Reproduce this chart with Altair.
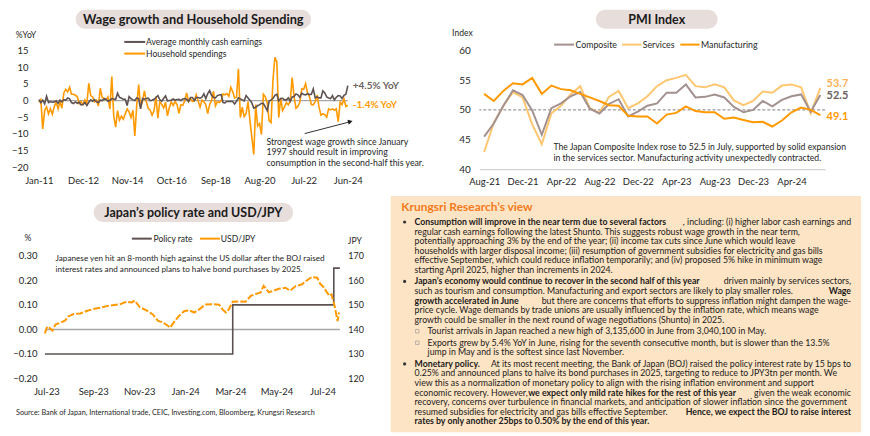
import altair as alt
import pandas as pd

FONT = "Lato"
TXT = "#262626"
DARK = "#5e5151"
ORANGE = "#ff9900"
LIGHT_OR = "#ffc670"
MAUVE = "#a39190"
ZERO_GREY = "#a6a6a6"
PILL = "#e7dddb"
PEACH = "#fde4c4"
TITLE_OR = "#f47b20"

# ---------------- Chart 1: wage growth and household spending (%YoY, monthly Jan-11 .. Jun-24)
wage_yoy = [
    0.3, -0.6, 0.1, -1.0, 1.3, -0.6, -0.3, -0.5, -0.4, -0.1, -0.8, 0.1,
    -0.4, 0.3, 0.1, 0.8, 0.5, -0.6, -0.9, -0.4, -0.8, -0.5, -1.3, -1.2,
    -0.6, -1.5, -0.5, 0.2, -0.2, 0.3, -0.4, -0.6, 0.1, 0.0, 0.5, 0.4,
    -0.2, 0.1, 0.6, 0.5, 0.3, 2.2, 1.0, 0.7, 0.4, 0.4, -1.5, 1.2,
    0.6, 0.2, 0.0, 0.8, 0.6, -2.5, 0.6, 0.4, 0.6, 0.7, 0.0, 0.1,
    0.4, 0.9, 1.5, 0.3, -0.2, 0.6, 1.4, -0.1, 0.0, 0.1, 0.5, 0.1,
    0.3, 0.4, 0.0, 0.5, 0.6, 0.4, -0.3, 0.9, 0.9, 0.0, 0.9, 0.9,
    0.7, 1.0, 2.0, 0.6, 2.1, 3.0, 1.6, 0.9, 0.8, 1.5, 1.7, 1.8,
    -0.6, -0.7, -0.2, -0.3, -0.2, -0.3, -1.0, -0.2, 0.8, 0.5, 0.2, -0.1,
    1.5, 0.8, 0.1, -0.7, -2.3, -2.0, -1.5, -1.3, -0.8, -0.9, -1.9, -3.0,
    -0.2, 0.2, 0.6, 1.6, 1.9, -0.1, 0.6, 0.7, 0.2, 0.2, 0.8, -0.2,
    1.1, 1.2, 2.0, 1.7, 1.0, 2.2, 1.8, 1.7, 2.1, 1.8, 1.9, 3.5,
    0.8, 1.1, 0.8, 0.8, 2.9, 2.3, 1.1, 0.8, 0.6, 1.5, 0.2, 1.0,
    1.5, 1.4, 0.6, 1.6, 1.9, 4.5,
]
household_yoy = [
    -0.5, 0.3, -8.5, -3.0, -1.9, -4.0, -2.4, -4.1, -1.9, -0.4, -2.5, -0.3,
    -2.3, 2.3, 3.4, 2.6, 4.0, 1.9, 1.9, 1.6, 1.2, -0.9, -0.3, -1.2,
    0.2, -0.9, 5.2, 1.5, 1.1, -0.4, 0.1, -1.6, 3.7, 0.9, 0.7, 0.2,
    1.1, -2.5, 7.2, -4.6, -8.0, -3.0, -5.9, -4.7, -5.6, -4.0, -2.5, -3.4,
    -5.1, -2.9, -10.6, -1.3, 4.8, -2.0, -0.2, 2.9, -0.4, -2.4, -2.9, -4.4,
    -3.1, 1.2, -5.3, -0.4, -1.1, -2.2, -0.5, -4.6, -2.1, -0.4, -1.5, -0.3,
    -1.2, -3.8, -1.3, -1.4, -0.1, 2.3, -0.2, 0.6, -0.3, 0.0, 1.7, -0.1,
    -2.0, 0.1, -0.4, -1.3, -3.9, -1.2, 0.1, 2.8, -1.6, -0.3, -0.6, -0.1,
    2.0, 1.7, 2.1, 1.3, 4.0, 2.7, 0.8, 1.0, 9.5, -5.1, -2.0, -4.8,
    -3.9, -0.3, -6.0, -11.1, -16.2, -1.2, -7.6, -6.9, -10.2, 1.9, 1.1, -0.6,
    -6.1, -6.6, 6.2, 13.0, 11.6, -5.1, 0.7, -3.0, -1.9, -0.6, -1.3, -0.2,
    6.9, 1.1, -2.3, -1.7, -0.5, 3.5, 3.4, 5.1, 2.3, 1.2, -1.2, -1.3,
    -0.3, 1.6, -1.9, -4.4, -4.0, -4.2, -5.0, -2.5, -2.8, -2.5, -2.9, -2.5,
    -6.3, -0.5, -1.2, 0.5, -1.8, -1.4,
]
months_wage = list(pd.date_range("2011-01-01", periods=len(wage_yoy), freq="MS").strftime("%b-%y"))
ticks_wage = ["Jan-11", "Dec-12", "Nov-14", "Oct-16", "Sep-18", "Aug-20", "Jul-22", "Jun-24"]
yticks_wage = [-20, -15, -10, -5, 0, 5, 10, 15]

# ---------------- Chart 2: PMI (monthly Aug-21 .. Jul-24)
pmi_composite = [45.5, 47.7, 50.7, 53.3, 52.5, 49.9, 45.8, 50.3, 51.1, 52.3, 53.0, 50.2,
                 49.4, 51.0, 51.8, 48.9, 49.7, 50.7, 51.1, 52.9, 52.9, 54.3, 52.1, 52.2,
                 52.6, 52.1, 50.5, 49.6, 50.0, 51.5, 50.6, 51.7, 52.3, 52.6, 49.7, 52.5]
pmi_services = [42.9, 47.8, 50.7, 53.0, 52.1, 47.6, 44.2, 49.4, 50.7, 52.6, 54.0, 50.3,
                49.5, 52.2, 53.2, 50.3, 51.1, 52.3, 54.0, 55.0, 55.4, 55.9, 54.0, 53.8,
                54.3, 53.8, 51.6, 50.8, 51.5, 53.1, 52.9, 54.1, 54.3, 53.8, 49.4, 53.7]
pmi_manufacturing = [52.7, 51.5, 53.2, 54.5, 54.3, 55.4, 52.7, 54.1, 53.5, 53.3, 52.7, 52.1,
                     51.5, 50.8, 50.7, 49.0, 48.9, 48.9, 47.7, 49.2, 49.5, 50.6, 49.8, 49.6,
                     49.6, 48.5, 48.7, 48.3, 47.9, 48.0, 47.2, 48.2, 49.6, 50.4, 50.0, 49.1]
months_pmi = list(pd.date_range("2021-08-01", periods=len(pmi_composite), freq="MS").strftime("%b-%y"))
ticks_pmi = ["Aug-21", "Dec-21", "Apr-22", "Aug-22", "Dec-22", "Apr-23", "Aug-23", "Dec-23", "Apr-24"]

# ---------------- Chart 3: policy rate (%) and USD/JPY
usdjpy_dates = ["2023-07-14", "2023-07-17", "2023-07-20", "2023-07-24", "2023-07-28", "2023-08-03",
                "2023-08-10", "2023-08-14", "2023-08-21", "2023-08-30", "2023-09-07", "2023-09-16",
                "2023-09-25", "2023-10-04", "2023-10-12", "2023-10-21", "2023-10-30", "2023-11-06",
                "2023-11-10", "2023-11-17", "2023-11-25", "2023-12-04", "2023-12-11", "2023-12-17",
                "2023-12-24", "2023-12-27", "2024-01-02", "2024-01-08", "2024-01-15", "2024-01-21",
                "2024-01-28", "2024-02-04", "2024-02-12", "2024-02-21", "2024-03-01", "2024-03-06",
                "2024-03-10", "2024-03-14", "2024-03-19", "2024-03-27", "2024-04-05", "2024-04-12",
                "2024-04-18", "2024-04-25", "2024-04-29", "2024-05-06", "2024-05-13", "2024-05-19",
                "2024-05-28", "2024-06-03", "2024-06-10", "2024-06-19", "2024-06-23", "2024-07-02",
                "2024-07-09", "2024-07-13", "2024-07-18", "2024-07-22", "2024-07-25", "2024-07-28",
                "2024-07-31", "2024-08-01", "2024-08-05", "2024-08-07"]
usdjpy = [138.4, 141.2, 140.7, 139.5, 142.0, 142.7,
          143.7, 145.3, 146.3, 146.5, 147.5, 148.3,
          148.8, 149.5, 149.9, 150.2, 151.3, 151.0,
          151.8, 149.0, 147.9, 146.1, 143.5, 142.9,
          141.5, 140.7, 143.4, 145.6, 147.5, 147.8,
          146.9, 148.3, 150.2, 150.3, 150.1, 148.0,
          146.9, 148.3, 151.3, 151.4, 151.3, 153.7,
          154.4, 155.1, 157.8, 155.1, 155.9, 156.6,
          157.0, 155.8, 157.6, 158.4, 159.5, 161.4,
          161.1, 158.6, 157.1, 155.1, 153.7, 154.3,
          150.7, 149.7, 143.4, 146.9]
policy_dates = ["2023-07-14", "2024-03-19", "2024-07-31", "2024-08-08"]
policy_rate = [-0.10, 0.10, 0.25, 0.25]
zero_dates = ["2023-07-14", "2024-08-08"]
zero_values = [0.0, 0.0]
rate_ticks = [-0.2, -0.1, 0.0, 0.1, 0.2, 0.3]
jpy_ticks = [120, 130, 140, 150, 160, 170]

# ---------------- Krungsri Research's view (line, text, bold, anchor)
view_title = "Krungsri Research\u2019s view"
view_segments = [
    (0, "Consumption will improve in the near term due to several factors", True, "L"),
    (0, ", including: (i) higher labor cash earnings and", False, "R"),
    (1, "regular cash earnings following the latest Shunto. This suggests robust wage growth in the near term,", False, "L"),
    (2, "potentially approaching 3% by the end of the year; (ii) income tax cuts since June which would leave", False, "L"),
    (3, "households with larger disposal income; (iii) resumption of government subsidies for electricity and gas bills", False, "L"),
    (4, "effective September, which could reduce inflation temporarily; and (iv) proposed 5% hike in minimum wage", False, "L"),
    (5, "starting April 2025, higher than increments in 2024.", False, "L"),
    (6, "Japan\u2019s economy would continue to recover in the second half of this year", True, "L"),
    (6, "driven mainly by services sectors,", False, "R"),
    (7, "such as tourism and consumption. Manufacturing and export sectors are likely to play smaller roles.", False, "L"),
    (7, "Wage", True, "R"),
    (8, "growth accelerated in June", True, "L"),
    (8, "but there are concerns that efforts to suppress inflation might dampen the wage-", False, "R"),
    (9, "price cycle. Wage demands by trade unions are usually influenced by the inflation rate, which means wage", False, "L"),
    (10, "growth could be smaller in the next round of wage negotiations (Shunto) in 2025.", False, "L"),
    (11, "Tourist arrivals in Japan reached a new high of 3,135,600 in June from 3,040,100 in May.", False, "S"),
    (12, "Exports grew by 5.4% YoY in June, rising for the seventh consecutive month, but is slower than the 13.5%", False, "S"),
    (13, "jump in May and is the softest since last November.", False, "S"),
    (14, "Monetary policy.", True, "L"),
    (14, "At its most recent meeting, the Bank of Japan (BOJ) raised the policy interest rate by 15 bps to", False, "R"),
    (15, "0.25% and announced plans to halve its bond purchases in 2025, targeting to reduce to JPY3tn per month. We", False, "L"),
    (16, "view this as a normalization of monetary policy to align with the rising inflation environment and support", False, "L"),
    (17, "economic recovery. However,", False, "L"),
    (17, "we expect only mild rate hikes for the rest of this year", True, "M"),
    (17, "given the weak economic", False, "R"),
    (18, "recovery, concerns over turbulence in financial markets, and anticipation of slower inflation since the government", False, "L"),
    (19, "resumed subsidies for electricity and gas bills effective September.", False, "L"),
    (19, "Hence, we expect the BOJ to raise interest", True, "R"),
    (20, "rates by only another 25bps to 0.50% by the end of this year.", True, "L"),
]
view_bullet_lines = [0, 6, 14]
view_sub_bullet_lines = [11, 12]
source_text = "Source: Bank of Japan, International trade, CEIC, Investing.com, Bloomberg, Krungsri Research"

# ---------------- layout (pixels, relative to each panel's plot origin)
view_line_y = [-34, -24.4, -14.8, -5.2, 4.4, 14,
               25.6, 35.2, 44.8, 54.4, 64,
               75.6,
               87.2, 96.8,
               108.4, 118, 127.6, 137.2, 146.8, 156.4, 166]
VIEW_X = {"L": 24, "R": 462, "S": 37, "M": 138}
VIEW_FS = 8.8
AXFS = 9.5

DUMMY = pd.DataFrame({"k": [0]})


def frame(L, T, W, H, R, B):
    return alt.Chart(DUMMY).mark_rect(fill="#ffffff", opacity=0).encode(
        x=alt.value(-L), x2=alt.value(W + R), y=alt.value(-T), y2=alt.value(H + B))


def label(x, y, text, size=9.5, color=TXT, bold=False, align="left"):
    return alt.Chart(DUMMY).mark_text(
        font=FONT, fontSize=size, fontWeight="bold" if bold else "normal",
        color=color, align=align, baseline="middle").encode(
        x=alt.value(x), y=alt.value(y), text=alt.value(text))


def pill(x1, x2, y1, y2, title, size=12.5):
    r = alt.Chart(DUMMY).mark_rect(fill=PILL, cornerRadius=(y2 - y1) / 2).encode(
        x=alt.value(x1), x2=alt.value(x2), y=alt.value(y1), y2=alt.value(y2))
    t = label((x1 + x2) / 2, (y1 + y2) / 2 + 0.5, title, size=size, bold=True, align="center", color="#1a1a1a")
    return [r, t]


def legend_line(x1, x2, y, color, width=2.0):
    return alt.Chart(DUMMY).mark_rule(color=color, strokeWidth=width).encode(
        x=alt.value(x1), x2=alt.value(x2), y=alt.value(y))


def ax(**kw):
    base = dict(domain=False, ticks=False, grid=False, title=None, labelFont=FONT,
                labelFontSize=AXFS, labelColor=TXT)
    base.update(kw)
    return alt.Axis(**base)


# ======================= Panel A =======================
WA, HA = 310, 117
xA = alt.X("month:O", sort=months_wage, scale=alt.Scale(type="point", padding=0),
           axis=ax(values=ticks_wage, labelAngle=0, labelPadding=8))
axis_yA = ax(values=yticks_wage, labelPadding=11)
scale_yA = alt.Scale(domain=[-20, 15], nice=False, zero=False)
yA = alt.Y("v:Q", scale=scale_yA, axis=axis_yA)
df_wage = pd.DataFrame({"month": months_wage, "v": wage_yoy})
df_hh = pd.DataFrame({"month": months_wage, "v": household_yoy})

zeroA = alt.Chart(DUMMY).mark_rule(color=ZERO_GREY, strokeWidth=1.2).encode(
    y=alt.YDatum(0, scale=scale_yA, axis=axis_yA))
hh_line = alt.Chart(df_hh).mark_line(color=ORANGE, strokeWidth=1.6).encode(x=xA, y=yA)
wage_line = alt.Chart(df_wage).mark_line(color=DARK, strokeWidth=1.6).encode(x=xA, y=yA)

arrowA = alt.Chart(DUMMY).mark_rule(color="#1a1a1a", strokeWidth=0.9).encode(
    x=alt.value(266.7), y=alt.value(83.3), x2=alt.value(312), y2=alt.value(71.5))
arrow_headA = alt.Chart(DUMMY).mark_point(shape="triangle-right", filled=True, size=28,
                                         angle=345, color="#1a1a1a", opacity=1).encode(
    x=alt.value(312.5), y=alt.value(71.3))

panelA = alt.layer(
    frame(30, 41, WA, HA, 92, 26),
    *pill(37, 273, -41, -22, "Wage growth and Household Spending", size=12.8),
    label(-13, -16, "%YoY", size=8.6, align="center"),
    legend_line(85.7, 106.7, -8.7, DARK),
    label(107.5, -8.7, "Average monthly cash earnings", size=8.6),
    legend_line(85.7, 106.7, 3, ORANGE),
    label(107.5, 3, "Household spendings", size=8.6),
    zeroA, hh_line, wage_line,
    label(315, 35.7, "+4.5% YoY", size=10, bold=True, color="#6b5f5f"),
    label(315, 55, "-1.4% YoY", size=10, bold=True, color=ORANGE),
    label(228.3, 91.3, "Strongest wage growth since January", size=8.8),
    label(228.3, 102, "1997 should result in improving", size=8.8),
    label(228.3, 112.7, "consumption in the second-half this year.", size=8.8),
    arrowA, arrow_headA,
).properties(width=WA, height=HA)

# ======================= Panel B =======================
WB, HB = 347, 119
xB = alt.X("month:O", sort=months_pmi, scale=alt.Scale(type="point", padding=0.5),
           axis=ax(values=ticks_pmi, labelAngle=0, labelPadding=7, domain=True,
                   domainColor="#c8c8c8", domainWidth=1))
axis_yB = ax(values=[40, 45, 50, 55, 60], labelPadding=9, labelFontSize=10)
scale_yB = alt.Scale(domain=[40, 60], nice=False, zero=False)
yB = alt.Y("v:Q", scale=scale_yB, axis=axis_yB)
df_comp = pd.DataFrame({"month": months_pmi, "v": pmi_composite})
df_serv = pd.DataFrame({"month": months_pmi, "v": pmi_services})
df_manu = pd.DataFrame({"month": months_pmi, "v": pmi_manufacturing})

fiftyB = alt.Chart(DUMMY).mark_rule(color="#7f7f7f", strokeWidth=1, strokeDash=[3, 2]).encode(
    y=alt.YDatum(50, scale=scale_yB, axis=axis_yB))

panelB = alt.layer(
    frame(38, 41, WB, HB, 33, 24),
    *pill(117, 239, -41, -22, "PMI Index"),
    label(-17, -18, "Index", size=8.6, align="center"),
    legend_line(75, 95, -6, MAUVE),
    label(96.5, -6, "Composite", size=8.8),
    legend_line(143.3, 162.7, -6, LIGHT_OR),
    label(164, -6, "Services", size=8.8),
    legend_line(201.7, 221, -6, ORANGE),
    label(222.5, -6, "Manufacturing", size=8.8),
    fiftyB,
    alt.Chart(df_serv).mark_line(color=LIGHT_OR, strokeWidth=2).encode(x=xB, y=yB),
    alt.Chart(df_comp).mark_line(color=MAUVE, strokeWidth=2).encode(x=xB, y=yB),
    alt.Chart(df_manu).mark_line(color=ORANGE, strokeWidth=2).encode(x=xB, y=yB),
    label(348.5, 34, "53.7", size=11, bold=True, color="#f9b35a"),
    label(348.5, 45.7, "52.5", size=11, bold=True, color="#6b5f5f"),
    label(348.5, 66.7, "49.1", size=11, bold=True, color=ORANGE),
    label(74.3, 96.3, "The Japan Composite Index rose to 52.5 in July, supported by solid expansion", size=8.7),
    label(74.3, 107.3, "in the services sector. Manufacturing activity unexpectedly contracted.", size=8.7),
).properties(width=WB, height=HB)

# ======================= Panel C =======================
WC, HC = 302, 123
xC = alt.X("date:T", scale=alt.Scale(domain=[alt.DateTime(year=2023, month=7, date=6),
                                             alt.DateTime(year=2024, month=8, date=8)]),
           axis=ax(values=[alt.DateTime(year=2023, month=7, date=16), alt.DateTime(year=2023, month=9, date=16),
                           alt.DateTime(year=2023, month=11, date=16), alt.DateTime(year=2024, month=1, date=16),
                           alt.DateTime(year=2024, month=3, date=16), alt.DateTime(year=2024, month=5, date=16),
                           alt.DateTime(year=2024, month=7, date=16)],
                   format="%b-%y", labelPadding=8, labelAngle=0))
scale_rate = alt.Scale(domain=[-0.2, 0.3], nice=False, zero=False)
y_rate = alt.Y("v:Q", scale=scale_rate, axis=ax(values=rate_ticks, format=".2f", labelPadding=2))
y_jpy = alt.Y("v:Q", scale=alt.Scale(domain=[120, 170], nice=False, zero=False),
              axis=ax(values=jpy_ticks, format="d", orient="right", labelPadding=8, labelFontSize=9))

df_zero = pd.DataFrame({"date": zero_dates, "v": zero_values})
df_policy = pd.DataFrame({"date": policy_dates, "v": policy_rate})
df_usd = pd.DataFrame({"date": usdjpy_dates, "v": usdjpy})

rate_layer = alt.layer(
    alt.Chart(df_zero).mark_line(color=ZERO_GREY, strokeWidth=1.5).encode(x=xC, y=y_rate),
    alt.Chart(df_policy).mark_line(color=DARK, strokeWidth=1.6, interpolate="step-after").encode(x=xC, y=y_rate),
)
usd_layer = alt.Chart(df_usd).mark_line(color=ORANGE, strokeWidth=2, strokeDash=[7, 2]).encode(x=xC, y=y_jpy)

panelC = alt.layer(
    frame(30, 61, WC, HC, 49, 54),
    *pill(55, 255, -53, -34, "Japan\u2019s policy rate and USD/JPY"),
    label(-11, -18, "%", size=8.6, align="center"),
    label(310, -15, "JPY", size=8.6),
    legend_line(93.3, 113.3, -17.3, DARK),
    label(115, -17.3, "Policy rate", size=8.6),
    legend_line(161.7, 181.7, -17.3, ORANGE),
    label(182.5, -17.3, "USD/JPY", size=8.6),
    label(16.7, 3.3, "Japanese yen hit an 8-month high against the US dollar after the BOJ raised", size=8.2),
    label(16.7, 14, "interest rates and announced plans to halve bond purchases by 2025.", size=8.2),
    label(-23, 158, source_text, size=7.3),
    rate_layer,
    usd_layer,
).resolve_scale(y="independent").properties(width=WC, height=HC)

# ======================= Panel D (text) =======================
WD, HD = 472, 177
rows = []
for line, text, bold, anchor in view_segments:
    rows.append({"x": VIEW_X[anchor], "y": view_line_y[line], "text": text,
                 "bold": bold, "align": "right" if anchor == "R" else "left"})
df_view = pd.DataFrame(rows)


def view_layer(bold, align):
    sub = df_view[(df_view["bold"] == bold) & (df_view["align"] == align)][["x", "y", "text"]]
    return alt.Chart(sub).mark_text(
        font=FONT, fontSize=VIEW_FS, fontWeight="bold" if bold else "normal",
        color="#1a1a1a", align=align, baseline="middle").encode(
        x=alt.X("x:Q", scale=None, axis=None), y=alt.Y("y:Q", scale=None, axis=None), text="text:N")


df_bul = pd.DataFrame({"x": [14] * len(view_bullet_lines), "y": [view_line_y[i] for i in view_bullet_lines]})
df_sub = pd.DataFrame({"x": [26.7] * len(view_sub_bullet_lines), "y": [view_line_y[i] for i in view_sub_bullet_lines]})

panelD = alt.layer(
    frame(0, 61, WD, HD, 0, 0),
    alt.Chart(DUMMY).mark_rect(fill=PEACH).encode(
        x=alt.value(0), x2=alt.value(WD), y=alt.value(-60), y2=alt.value(HD)),
    label(10.7, -49.3, view_title, size=12, bold=True, color=TITLE_OR),
    alt.Chart(df_bul).mark_circle(size=10, color="#333333", opacity=1).encode(
        x=alt.X("x:Q", scale=None, axis=None), y=alt.Y("y:Q", scale=None, axis=None)),
    alt.Chart(df_sub).mark_point(shape="square", filled=False, size=12, color="#8c8c8c", strokeWidth=0.8).encode(
        x=alt.X("x:Q", scale=None, axis=None), y=alt.Y("y:Q", scale=None, axis=None)),
    view_layer(True, "left"), view_layer(False, "left"),
    view_layer(True, "right"), view_layer(False, "right"),
).properties(width=WD, height=HD)

top = alt.hconcat(panelA, panelB, spacing=0)
bottom = alt.hconcat(panelC, panelD, spacing=0)
chart = alt.vconcat(top, bottom, spacing=0).properties(
    padding=0, background="white").configure_view(stroke="transparent")

chart.save("out.html", embed_options={"renderer": "svg", "actions": False})
